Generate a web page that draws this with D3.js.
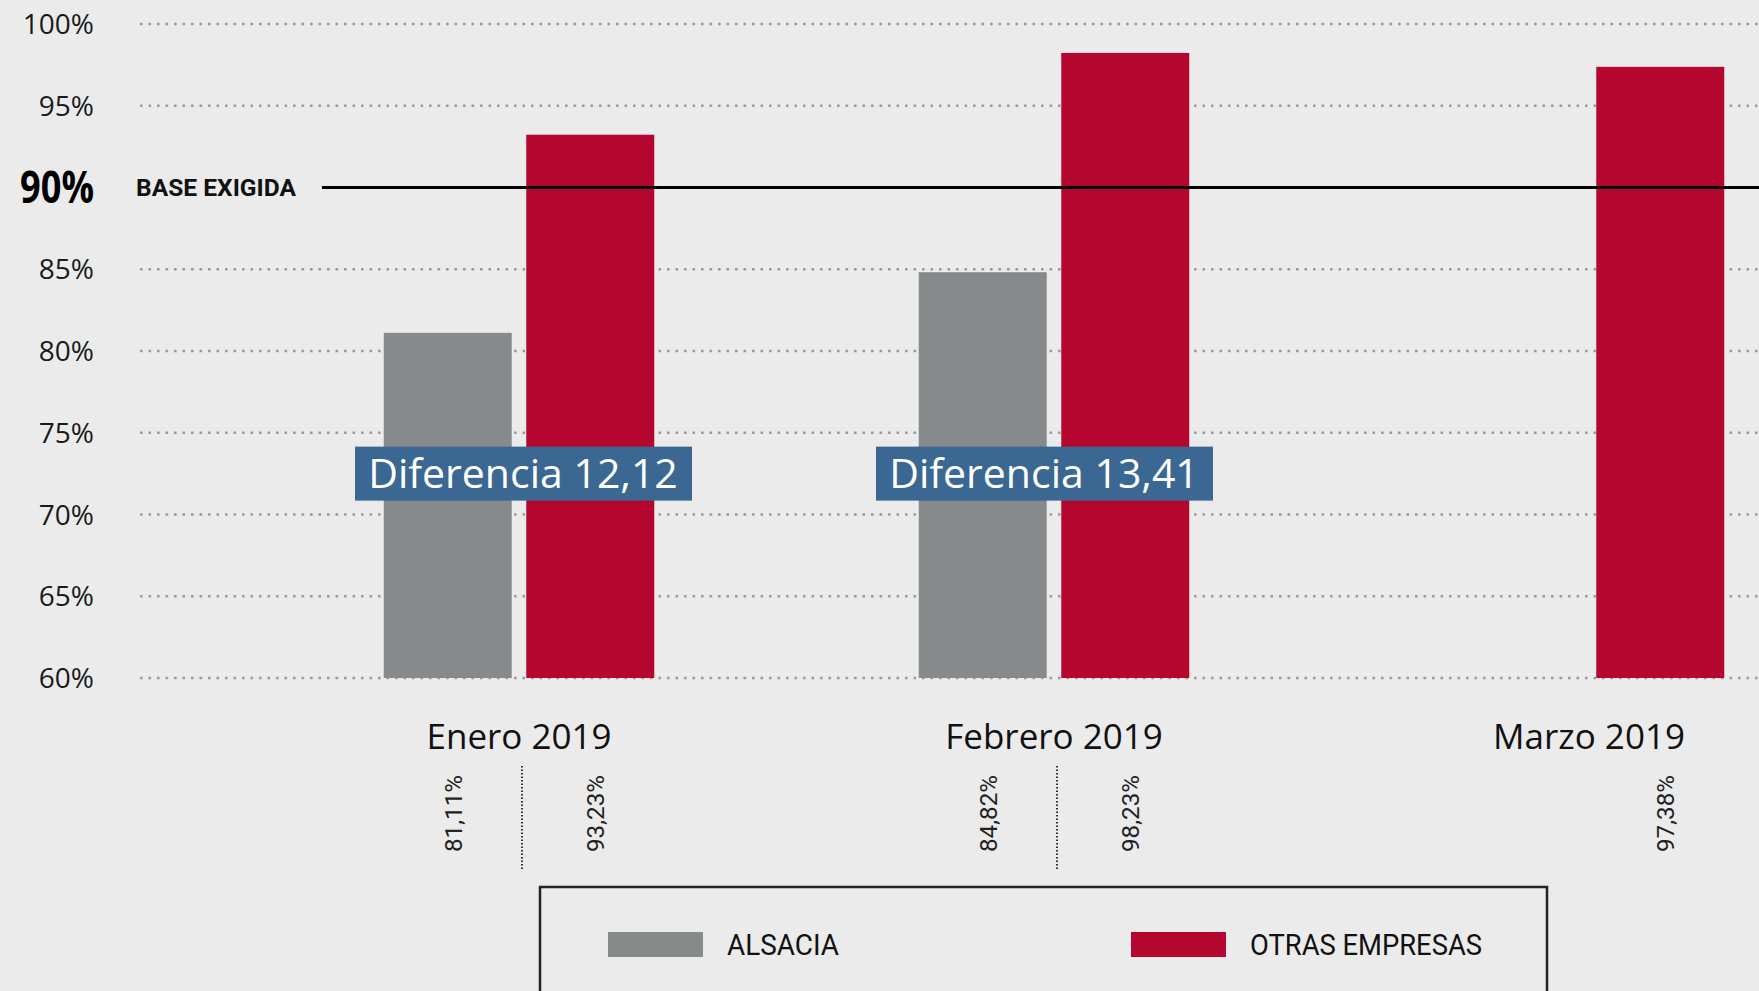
<!DOCTYPE html>
<html>
<head>
  <meta charset="utf-8">
  <title>Alsacia vs otras empresas</title>
  <script src="https://cdn.jsdelivr.net/npm/d3@7"></script>
  <style>
    body { margin: 0; background: #ebebeb; }
    svg { display: block; }
  </style>
</head>
<body>
  <svg width="1759" height="991" id="mainsvg"></svg>
  <script>
      // data
      const months = ['Enero 2019', 'Febrero 2019', 'Marzo 2019'];
      const alsacia = [81.11, 84.82, null];
      const otras = [93.23, 98.23, 97.38];
      const alsaciaLabels = ['81,11%', '84,82%', null];
      const otrasLabels = ['93,23%', '98,23%', '97,38%'];
      const diferencias = ['Diferencia 12,12', 'Diferencia 13,41', null];
      const yTicks = [60, 65, 70, 75, 80, 85, 95, 100];
      const baseValue = 90;
      const seriesNames = ['ALSACIA', 'OTRAS EMPRESAS'];
      const seriesKeys = ['alsacia', 'otras'];

      const svg = d3.select('svg');
      const width = +svg.attr('width');
      const height = +svg.attr('height');

      const colors = {alsacia: '#878a8b', otras: '#b5062f'};
      const condensed = '"Roboto", "Liberation Sans", sans-serif';
      const mainFont = '"Open Sans", "Noto Sans", sans-serif';

      svg.append('rect').attr('width', width).attr('height', height).attr('fill', '#ebebeb');

      const yScale = d3.scaleLinear().domain([60, 100]).range([678, 24]);
      const xScale = d3.scalePoint().domain(months).range([519, 1589]);
      const xInner = d3.scaleBand().domain(seriesKeys).range([-135.25, 135.25]).paddingInner(0.102);

      const rows = months.map((m, i) => ({
          month: m, alsacia: alsacia[i], otras: otras[i],
          alsaciaLabel: alsaciaLabels[i], otrasLabel: otrasLabels[i], diff: diferencias[i]
      }));

      // dotted grid
      svg.append('g').selectAll('line').data(yTicks).join('line')
      .attr('x1', 140).attr('x2', width)
      .attr('y1', d => yScale(d)).attr('y2', d => yScale(d))
      .attr('stroke', '#9b9b9b').attr('stroke-width', 2.6)
      .attr('stroke-dasharray', '2.6 5.9');

      // y labels
      svg.append('g').selectAll('text').data(yTicks).join('text')
      .attr('x', 94).attr('y', d => yScale(d)).attr('dy', '0.36em')
      .attr('text-anchor', 'end').attr('font-family', mainFont).attr('font-size', 28)
      .attr('fill', '#1a1a1a').text(d => d + '%');

      // bars
      const groups = svg.append('g').selectAll('g').data(rows).join('g')
      .attr('transform', d => `translate(${xScale(d.month)},0)`);

      seriesKeys.forEach(k => {
          groups.filter(d => d[k] != null).append('rect')
          .attr('x', xInner(k)).attr('width', xInner.bandwidth())
          .attr('y', d => yScale(d[k])).attr('height', d => yScale(60) - yScale(d[k]))
          .attr('fill', colors[k]);
      });

      // base line 90%
      svg.append('line').attr('x1', 322).attr('x2', width)
      .attr('y1', yScale(baseValue)).attr('y2', yScale(baseValue))
      .attr('stroke', '#000').attr('stroke-width', 3);
      svg.append('text').attr('x', 94).attr('y', yScale(baseValue)).attr('dy', '0.36em')
      .attr('text-anchor', 'end').attr('font-family', mainFont).attr('font-weight', 'bold')
      .attr('font-size', 44).attr('textLength', 74).attr('lengthAdjust', 'spacingAndGlyphs')
      .attr('fill', '#000').text(baseValue + '%');
      svg.append('text').attr('x', 136).attr('y', yScale(baseValue)).attr('dy', '0.36em')
      .attr('font-family', condensed).attr('font-weight', 'bold')
      .attr('font-size', 24).attr('textLength', 160).attr('lengthAdjust', 'spacingAndGlyphs')
      .attr('fill', '#111').text('BASE EXIGIDA');

      // difference boxes (small horizontal nudges as in the original layout)
      const diffShift = [4, -10];
      const diffG = groups.filter(d => d.diff != null).append('g')
      .attr('transform', (d, i) => `translate(${diffShift[i]},${yScale(72.5)})`);
      diffG.append('rect').attr('x', -168).attr('width', 337)
      .attr('y', -27).attr('height', 54).attr('fill', '#3b6892');
      diffG.append('text')
      .attr('text-anchor', 'middle').attr('dy', '0.36em')
      .attr('font-family', mainFont).attr('font-size', 41).attr('fill', '#fff')
      .text(d => d.diff);

      // month labels
      groups.append('text').attr('y', 749).attr('text-anchor', 'middle')
      .attr('font-family', mainFont).attr('font-size', 35).attr('fill', '#111')
      .text(d => d.month);

      // separator dotted line
      groups.filter(d => d.alsacia != null).append('line')
      .attr('x1', 3).attr('x2', 3).attr('y1', 766).attr('y2', 869)
      .attr('stroke', '#333').attr('stroke-width', 2).attr('stroke-dasharray', '1.5 2');

      // value labels (rotated)
      seriesKeys.forEach(k => {
          groups.filter(d => d[k] != null).append('text')
          .attr('transform', d => `translate(${xInner(k) + xInner.bandwidth() / 2 + 14},775) rotate(-90)`)
          .attr('text-anchor', 'end')
          .attr('font-family', condensed).attr('font-size', 23).attr('fill', '#222')
          .attr('textLength', 77).attr('lengthAdjust', 'spacingAndGlyphs')
          .text(d => d[k + 'Label']);
      });

      // legend
      svg.append('rect').attr('x', 540).attr('y', 887).attr('width', 1007).attr('height', 140)
      .attr('fill', 'none').attr('stroke', '#222').attr('stroke-width', 2.5);
      const legendX = [608, 1131];
      const legendTextW = [112, 232];
      const legend = svg.append('g').selectAll('g').data(seriesKeys).join('g')
      .attr('transform', (d, i) => `translate(${legendX[i]},932)`);
      legend.append('rect').attr('width', 95).attr('height', 25).attr('fill', d => colors[d]);
      legend.append('text').attr('x', 119).attr('y', 12.5).attr('dy', '0.36em')
      .attr('font-family', condensed).attr('font-size', 30).attr('fill', '#111')
      .attr('textLength', (d, i) => legendTextW[i]).attr('lengthAdjust', 'spacingAndGlyphs')
      .text((d, i) => seriesNames[i]);
  </script>
</body>
</html>
